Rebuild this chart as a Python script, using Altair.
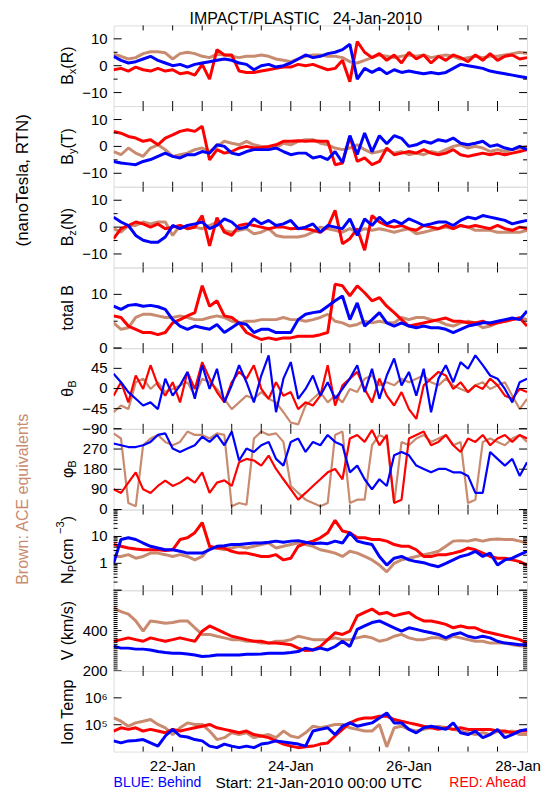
import altair as alt
import pandas as pd

# ---------------- data (3-hour samples from 21-Jan-2010 00:00 UTC) ----------------
HOURS = list(range(0, 169, 3))

BX_ACE = [4.3, 3.5, 2.5, 3, 4.5, 5.2, 5.2, 4.8, 2.5, 4.5,
          5, 4.5, 3.5, 3, 4.3, 4, 3.5, 3, 3.5, 3.5,
          4, 3.5, 2.5, 2, 1.5, 2.5, 3.5, 4, 4, 3.5,
          3.5, 3, 1.5, 1, 2, 3, 4, 3.5, 3, 3.5,
          4, 3.5, 4, 3, 3.5, 4, 3.5, 2.5, 3, 3.5,
          3, 3.5, 3.5, 4, 4.5, 5, 4.5]
BX_AHEAD = [-1.5, -1, -2, -0.5, -1.5, -2, -1, -2, -1.5, -3,
            -2.5, -3.5, 0.5, -5, 6, 4, 4, -2, -2.5, -2.5,
            -2, -1.5, -1, -0.5, -0.5, 0.5, 0, 0.5, -0.5, -1.5,
            -1, 2, -6, 9, 5, 3, 4.5, 2, 4, 1,
            5, 2.5, 4, 1, 3.5, 2, 4, 3, 1.5, 4,
            2, 4.5, 2, 3.5, 4, 2.5, 3]
BX_BEHIND = [3.5, 2, 1, 1.5, 2.5, 3.5, 2, 1, 0, 0.5,
             -0.5, 0.5, 1, 1.5, 2, 2.5, 2, 1, 0.5, -1.5,
             0, 0.5, -0.5, 0, 1, 2.5, 4, 3, 3.5, 4.5,
             5, 6, 8, -5, -1, -2.5, -1, -3, -1.5, -2.5,
             -2, -2.5, -3, -2.5, -3, -2.5, -1, 0.5, 0, -0.5,
             -1, -2, -2.5, -3, -3.5, -4, -4.5]

BY_ACE = [-1.9, -3.1, -0.6, -2.5, -3.7, -0.6, 0.6, -1.2, -3.7, -3.1,
          -2.5, -1.2, -0.6, -1.9, 0, 1.9, 1.2, 0.6, 1.9, 0.6,
          0, -0.6, -0.6, 1.2, 0.6, 1.9, 2.5, 2.5, 1.2, 0.6,
          -0.6, -1.2, -0.6, 0.6, -1.2, -2.5, -1.9, -1.2, -2.5, -1.9,
          -3.1, -2.5, -3.1, -1.9, -2.5, -1.2, 0, 0.6, -0.6, 0,
          -0.6, -1.9, -1.2, -1.9, -1.2, -0.6, 0]
BY_AHEAD = [5.6, 4.9, 3.7, 3.1, 1.9, 2.5, 0.6, 3.1, 4.3, 5.6,
            6.2, 5.6, 7.5, -5, -1.2, -2.5, -1.9, -0.6, 0, -0.6,
            -0.4, 0, 0.6, 1.9, 1.9, 2.1, 1.9, 2.1, 1.9, 1.9,
            -6.8, -6.2, 3.7, -5.6, -4.3, -6.8, -5.6, -0.6, -3.1, -2.5,
            -1.9, -2.5, -1.2, -2.5, -3.1, -2.5, -1.2, -3.1, -3.7, -3.1,
            -2.5, -3.1, -2.5, -3.1, -2.5, -1.9, -1.2]
BY_BEHIND = [-5.6, -6.2, -6.5, -6.8, -5.6, -4.9, -3.7, -2.5, -3.7, -4.3,
             -3.1, -3.1, -1.9, -2.5, 0.6, 0, -2.5, -3.1, -1.9, -1.2,
             -1.2, -1.2, -0.6, -1.9, -3.1, -2.5, -2.5, -4.3, -3.7, -4.9,
             -1.9, -6, 4, -3, 5, -2, 4, 1, 4, 3,
             0, 0.6, 1.9, 1.2, 2.5, 1.9, 3.1, 1.2, 0.6, 1.2,
             1.9, 0, 0.6, -0.6, -1.2, 0, -1.2]

BZ_ACE = [-0.6, -1.9, 0.6, 0.6, 1.9, 1.2, 1.9, 1.9, -3.1, 0.6,
          -0.6, 0, -0.6, 0.6, 1.9, -1.2, -1.9, -1.2, -0.6, -2.5,
          -1.9, -0.6, -3.1, -3.7, -3.7, -3.7, -3.1, -1.9, 0, -0.6,
          -1.2, -1.9, -0.6, -1.9, -0.6, -1.2, -0.6, -1.2, -1.9, -1.2,
          -0.6, -2.5, -1.9, -1.2, -0.6, 0, -0.6, 0.6, 0, -1.2,
          -1.2, -1.2, -1.9, -1.9, -1.9, -1.9, -1.2]
BZ_AHEAD = [-4.3, -0.6, 0.6, 1.9, 1.2, 0, 1.2, -0.6, 0, 0.6,
            -0.6, 0, 4.3, -7, 3.5, -1.9, -3.1, 0.6, 1.2, 0.6,
            0, -0.6, 0, 0, -0.6, -0.4, -0.6, -1.2, -1.9, 0,
            6.2, -6.2, -4.3, -0.6, -8.6, 4.3, 1.9, 0.6, 0, 0.6,
            -0.6, -1.2, 0.6, 0, -0.6, 0.6, -0.6, 0.6, 0, 0.6,
            0, -0.6, 0.6, -0.6, -1.2, 0, -0.6]
BZ_BEHIND = [3.7, 1.9, 0.6, -3.1, -4.9, -5.6, -5.6, -3.7, 0.6, -0.6,
             0.6, 1.2, 1.9, -0.6, 0.6, 3.1, 1.9, -0.6, 0, 3.1,
             1.2, 2.5, 0.6, 1.2, 2.5, -0.6, 0, 1.2, -1.9, 0.6,
             0, -0.6, 3.1, -3.1, 3.1, 0.6, 3.7, 1.2, 2.5, 1.2,
             3.1, 1.9, 0.6, 1.2, 1.9, 1.9, 0.6, 2.5, 3.7, 3.1,
             4.3, 3.7, 3.1, 2.5, 1.2, 1.9, 2.5]

BT_ACE = [4.7, 3.5, 3.8, 5.7, 6.3, 6.3, 6.0, 5.7, 5.7, 6.0,
          5.7, 5.3, 5.3, 5.7, 6.0, 5.7, 5.0, 4.7, 5.0, 5.0,
          5.3, 5.3, 5.3, 5.7, 5.3, 5.3, 5.0, 5.3, 5.7, 6.3,
          5.0, 4.7, 4.1, 4.4, 5.0, 4.7, 5.0, 4.7, 4.7, 5.7,
          5.3, 5.7, 5.7, 5.3, 5.0, 4.4, 4.1, 4.7, 5.0, 4.7,
          3.8, 4.1, 4.7, 5.0, 5.3, 5.7, 5.3]
BT_AHEAD = [6.0, 5.7, 4.1, 3.5, 2.9, 2.9, 2.5, 2.9, 4.7, 5.3,
            6.0, 6.6, 11.6, 7.8, 8.8, 6.0, 5.7, 4.7, 2.9, 2.2,
            1.6, 1.9, 1.6, 1.9, 1.9, 2.2, 2.2, 2.2, 2.5, 2.9,
            11.9, 11.6, 9.7, 11.6, 10.3, 8.8, 9.4, 7.8, 6.6, 5.3,
            4.1, 4.4, 4.7, 5.0, 5.3, 5.6, 5.0, 5.0, 4.7, 4.7,
            5.0, 4.4, 4.7, 5.0, 5.3, 5.6, 4.1]
BT_BEHIND = [7.8, 7.2, 7.95, 8.1, 7.8, 7.95, 7.7, 7.2, 5.3, 4.1,
             3.5, 4.1, 3.8, 3.5, 4.4, 2.9, 3.8, 4.7, 4.4, 2.9,
             3.5, 3.5, 2.9, 2.9, 2.9, 5.3, 6.3, 6.6, 6.8, 7.8,
             8.8, 9.7, 5.3, 8.4, 4.1, 5.3, 6.6, 4.7, 4.1, 4.7,
             4.1, 3.8, 4.1, 3.8, 3.8, 3.5, 2.9, 3.5, 4.1, 4.4,
             4.7, 4.7, 5.0, 5.3, 5.6, 5.3, 6.9]

TH_ACE = [-53, -38, -46, 14, 22, -1, 14, -8, -1, 7,
          14, -16, 22, 14, -1, -23, -46, -31, -16, -23,
          -8, -23, -31, -53, -76, -80, -38, -23, -8, -31,
          -16, -31, -1, -8, 22, 29, 7, 14, 7, 22,
          14, 22, 29, 14, 7, 22, 7, -1, -8, 7,
          14, -1, 7, 14, -16, -46, -23]
TH_AHEAD = [-16, 14, -31, 29, -1, 52, 7, -16, 14, -31,
            37, -1, 59, 22, -8, -31, 14, 37, 22, 52,
            -1, -23, 14, -16, -8, -46, -31, -38, -16, 52,
            -38, 7, 22, 37, -1, -31, 22, -16, -38, -8,
            -46, -68, 7, 22, 37, 29, -1, 14, -8, 7,
            -1, 22, 7, -16, -23, -1, -8]
TH_BEHIND = [33, 14, -8, -23, -38, -31, -46, 22, -16, 7,
             37, -23, 52, -1, 44, -31, 7, 52, 14, -31,
             29, 74, -53, 22, 59, -23, -1, 29, -16, 14,
             -23, -1, 22, 52, -8, 44, -23, 29, 67, 7,
             37, -16, 44, -53, 22, 52, 14, 59, 44, 74,
             52, 29, 22, -1, -31, 14, 22]

PH_ACE = [340, 317, 29, 14, 287, 317, 333, 302, 287, 302,
          348, 333, 333, 317, 340, 333, 14, 29, 21, 317,
          348, 333, 340, 302, 105, 74, 44, 29, 14, 29,
          333, 348, 29, 44, 44, 287, 333, 317, 29, 302,
          287, 317, 333, 302, 317, 333, 287, 302, 29, 44,
          302, 317, 302, 287, 317, 333, 302]
PH_AHEAD = [90, 74, 120, 166, 90, 74, 105, 129, 105, 120,
            143, 120, 166, 74, 120, 130, 105, 211, 226, 219,
            196, 241, 181, 135, 90, 44, 74, 105, 135, 166,
            181, 135, 317, 333, 302, 355, 287, 333, 29, 44,
            317, 333, 348, 287, 302, 333, 287, 257, 317, 302,
            333, 287, 317, 333, 302, 333, 317]
PH_BEHIND = [295, 287, 279, 279, 287, 302, 333, 340, 272, 257,
             272, 287, 325, 302, 333, 287, 348, 219, 272, 257,
             287, 302, 226, 196, 302, 317, 257, 302, 287, 333,
             302, 287, 166, 196, 135, 90, 135, 105, 242, 257,
             242, 196, 181, 166, 181, 181, 166, 166, 150, 74,
             74, 257, 226, 196, 226, 150, 211]

NP_ACE = [1.8, 1.8, 2.1, 1.55, 1.8, 2.4, 2.4, 2.1, 1.8, 2.1,
          1.8, 1.34, 1.8, 3.7, 3.7, 3.2, 3.7, 4.3, 3.7, 4.3,
          5.0, 5.7, 3.7, 4.3, 5.0, 5.7, 5.0, 4.3, 3.2, 2.8,
          2.4, 1.8, 2.8, 2.4, 1.8, 1.34, 0.86, 0.48, 1.0, 1.34,
          1.55, 1.8, 2.1, 2.4, 2.8, 4.3, 6.7, 7.0, 6.7, 7.7,
          6.7, 7.7, 8.0, 7.7, 7.7, 6.7, 5.7]
NP_AHEAD = [5.0, 4.3, 3.7, 3.4, 3.2, 3.2, 3.2, 3.0, 3.2, 7.7,
            8.9, 13.8, 33, 4.3, 3.7, 3.7, 2.8, 2.4, 2.4, 2.1,
            1.8, 1.8, 2.1, 1.34, 1.55, 4.3, 5.7, 6.7, 8.9, 13.8,
            40, 16, 13.8, 8.9, 8.9, 7.7, 7.7, 6.7, 5.0, 4.3,
            4.3, 3.2, 1.8, 1.8, 2.1, 2.1, 2.4, 2.8, 3.7, 3.2,
            2.4, 1.8, 1.55, 1.55, 1.34, 1.16, 0.86]
NP_BEHIND = [1.0, 7.7, 8.9, 7.7, 5.7, 4.3, 3.7, 3.2, 3.2, 2.8,
             2.4, 2.4, 2.4, 3.2, 4.3, 4.5, 5.0, 5.0, 5.4, 5.7,
             5.7, 6.1, 6.7, 6.1, 6.7, 7.0, 6.1, 5.4, 5.7, 5.4,
             6.7, 5.7, 13.8, 6.7, 5.7, 5.0, 1.8, 0.86, 1.55, 1.8,
             1.34, 1.16, 1.06, 0.86, 0.75, 1.0, 1.34, 1.8, 2.1, 2.8,
             1.8, 2.4, 0.86, 1.34, 1.55, 2.1, 2.8]

V_ACE = [511, 494, 482, 448, 397, 448, 443, 436, 440, 448,
         448, 414, 381, 381, 372, 364, 355, 355, 347, 347,
         338, 338, 347, 347, 355, 372, 364, 355, 355, 355,
         364, 355, 355, 364, 372, 364, 347, 355, 372, 381,
         364, 355, 355, 364, 364, 355, 372, 364, 355, 347,
         347, 338, 338, 338, 330, 325, 322]
V_AHEAD = [347, 355, 364, 355, 347, 364, 355, 347, 355, 364,
           355, 347, 397, 423, 406, 389, 372, 364, 355, 347,
           347, 338, 338, 335, 330, 313, 301, 304, 321, 355,
           389, 381, 397, 473, 490, 507, 482, 490, 473, 482,
           490, 465, 448, 448, 440, 431, 414, 423, 414, 414,
           397, 389, 381, 372, 364, 355, 338]
V_BEHIND = [322, 313, 313, 308, 308, 304, 296, 291, 288, 288,
            284, 279, 271, 274, 279, 279, 279, 279, 283, 283,
            284, 288, 288, 288, 291, 296, 313, 304, 313, 304,
            321, 347, 321, 406, 423, 440, 448, 431, 414, 397,
            414, 406, 397, 389, 381, 364, 381, 389, 372, 364,
            372, 364, 347, 338, 335, 330, 330]

T_ACE = [1.79e5, 1.35e5, 8.8e4, 1.17e5, 1.35e5, 1.56e5, 1.02e5, 7.7e4, 4.3e4, 7.7e4,
         1.17e5, 1.02e5, 1.02e5, 5.8e4, 2.8e4, 3.3e4, 5.0e4, 4.3e4, 5.0e4, 3.3e4,
         3.8e4, 4.3e4, 3.3e4, 5.8e4, 3.8e4, 3.3e4, 5.0e4, 8.8e4, 7.7e4, 8.8e4,
         1.02e5, 1.02e5, 7.7e4, 6.7e4, 5.8e4, 5.8e4, 1.02e5, 1.5e4, 7.7e4, 8.8e4,
         6.7e4, 5.8e4, 6.7e4, 7.7e4, 8.8e4, 7.7e4, 6.7e4, 5.8e4, 5.0e4, 4.3e4,
         5.0e4, 4.3e4, 5.8e4, 5.0e4, 5.8e4, 4.3e4, 4.3e4]
T_AHEAD = [5.8e4, 7.7e4, 6.7e4, 7.7e4, 5.8e4, 6.7e4, 5.8e4, 5.0e4, 6.7e4, 5.8e4,
           6.7e4, 7.7e4, 8.8e4, 1.02e5, 7.7e4, 6.7e4, 5.8e4, 5.0e4, 5.8e4, 4.3e4,
           3.8e4, 3.3e4, 2.5e4, 1.9e4, 1.6e4, 1.4e4, 1.5e4, 1.6e4, 1.9e4, 2.1e4,
           3.8e4, 6.7e4, 1.17e5, 1.56e5, 1.79e5, 1.79e5, 2.07e5, 2.07e5, 1.56e5, 1.35e5,
           1.17e5, 1.02e5, 8.8e4, 7.7e4, 6.7e4, 7.7e4, 6.7e4, 7.7e4, 6.7e4, 6.7e4,
           6.7e4, 6.7e4, 5.8e4, 5.8e4, 5.0e4, 5.8e4, 5.8e4]
T_BEHIND = [2.5e4, 2.1e4, 2.5e4, 2.6e4, 2.8e4, 2.1e4, 1.6e4, 3.8e4, 6.7e4, 3.8e4,
            3.5e4, 2.8e4, 2.5e4, 1.6e4, 1.4e4, 1.9e4, 1.6e4, 1.4e4, 1.6e4, 1.4e4,
            1.9e4, 2.1e4, 2.5e4, 2.3e4, 2.1e4, 1.9e4, 1.6e4, 5.8e4, 6.7e4, 7.7e4,
            4.3e4, 8.8e4, 1.17e5, 8.8e4, 1.02e5, 1.17e5, 1.79e5, 2.74e5, 1.17e5, 1.17e5,
            6.7e4, 5.0e4, 7.7e4, 8.8e4, 7.7e4, 6.7e4, 1.17e5, 5.0e4, 4.3e4, 5.8e4,
            3.3e4, 4.3e4, 6.7e4, 3.3e4, 4.3e4, 5.8e4, 6.7e4]

# tick labels
X_LABEL_HOURS = [24, 72, 120, 168]
X_LABELS = ["22-Jan", "24-Jan", "26-Jan", "28-Jan"]
X_TICKS = list(range(12, 168, 12))

TITLE = "IMPACT/PLASTIC\u00a0\u00a0\u00a024-Jan-2010"
FOOT_LEFT = "BLUE: Behind"
FOOT_MID = "Start: 21-Jan-2010 00:00 UTC"
FOOT_RIGHT = "RED: Ahead"
SIDE_UNITS = "(nanoTesla, RTN)"
SIDE_ACE = "Brown: ACE equivalents"

# ---------------- style ----------------
W, H = 415, 80.9
BROWN, RED, BLUE = "#C98B70", "#FF0000", "#0000FF"
FONT = "Liberation Sans"
LAB_X = -46      # centre of the rotated panel titles, relative to plot left
SIDE_X = -91     # centre of the far-left rotated notes

CW = {' ': .278, '(': .333, ')': .333, 'B': .667, 'R': .722, 'T': .611, 'N': .722,
      'x': .5, 'y': .5, 'z': .5, 't': .278, 'o': .556, 'a': .556, 'l': .222, 'e': .556,
      'P': .667, 'c': .5, 'm': .833, '3': .556, '\u2212': .584, 'V': .667, 'k': .5,
      '/': .278, 's': .5, 'I': .278, 'n': .556, 'p': .556, '\u03b8': .556, '\u03c6': .65}


def tw(s, size):
    return sum(CW.get(c, .556) for c in s) * size


def txt(text, x, y, size=14, color="black", angle=0, align="center", dx=0, dy=0):
    return alt.Chart(alt.Data(values=[{"a": 0}])).mark_text(
        text=text, font=FONT, fontSize=size, color=color, angle=angle,
        align=align, baseline="middle", dx=dx, dy=dy
    ).encode(x=alt.value(x), y=alt.value(y))


def vlabel(segs, x, y, size=16, color="black"):
    sizes = [size if k == "n" else size * 0.7 for _, k in segs]
    total = sum(tw(s, sz) for (s, _), sz in zip(segs, sizes))
    cur = -total / 2
    out = []
    for (s, k), sz in zip(segs, sizes):
        dy = 0 if k == "n" else (size * 0.3 if k == "sub" else -size * 0.4)
        out.append(txt(s, x, y, sz, color, angle=270, align="left", dx=cur, dy=dy))
        cur += tw(s, sz)
    return out


def panel(ace, ahead, behind, dom, major, minor, labvals, labtexts, title,
          log=False, extra=(), bottom=False, sw=3.0):
    df = pd.DataFrame({"h": HOURS, "ace": ace, "ahead": ahead, "behind": behind})
    xs = alt.Scale(domain=[0, 168], nice=False, zero=False)
    if log:
        ys = alt.Scale(domain=dom, type="log", nice=False)
    else:
        ys = alt.Scale(domain=dom, nice=False, zero=False)
    layers = []
    for col, color in [("ace", BROWN), ("ahead", RED), ("behind", BLUE)]:
        layers.append(alt.Chart(df).mark_line(color=color, strokeWidth=sw, clip=True,
                                              strokeJoin="bevel").encode(
            x=alt.X("h:Q", scale=xs, axis=None),
            y=alt.Y(f"{col}:Q", scale=ys, axis=None)))
    xt = pd.DataFrame({"h": X_TICKS})
    for ya, yb in [(0, 5), (H - 5, H)]:
        layers.append(alt.Chart(xt).mark_rule(color="black", strokeWidth=1).encode(
            x=alt.X("h:Q", scale=xs, axis=None), y=alt.value(ya), y2=alt.value(yb)))
    for vals, ln in [(major, 8), (minor, 4)]:
        if vals:
            td = pd.DataFrame({"v": vals})
            for xa, xb in [(0, ln), (W - ln, W)]:
                layers.append(alt.Chart(td).mark_rule(color="black", strokeWidth=1).encode(
                    y=alt.Y("v:Q", scale=ys, axis=None), x=alt.value(xa), x2=alt.value(xb)))
    # y tick labels
    ld = pd.DataFrame({"v": labvals, "t": labtexts})
    layers.append(alt.Chart(ld).mark_text(
        align="right", baseline="middle", font=FONT, fontSize=15, color="black").encode(
        y=alt.Y("v:Q", scale=ys, axis=None), x=alt.value(-6), text="t:N"))
    if bottom:
        # the last label is nudged left so that the page is not wider than the window
        for hv, lab in zip(X_LABEL_HOURS, X_LABELS):
            xd = pd.DataFrame({"h": [hv], "t": [lab]})
            layers.append(alt.Chart(xd).mark_text(
                align="center", baseline="middle", font=FONT, fontSize=15, color="black",
                dx=-9 if hv == 168 else 0).encode(
                x=alt.X("h:Q", scale=xs, axis=None), y=alt.value(H + 14.5), text="t:N"))
    layers += vlabel(title, LAB_X, H / 2)
    layers += list(extra)
    return alt.layer(*layers).properties(width=W, height=H)


NP_MINOR = [0.2, 0.3, 0.4, 0.5, 0.6, 0.7, 0.8, 0.9, 2, 3, 4, 5, 6, 7, 8, 9,
            20, 30, 40, 50, 60, 70, 80, 90]
V_MINOR = [v for v in range(210, 600, 10) if v != 400]

p1 = panel(BX_ACE, BX_AHEAD, BX_BEHIND, [-15, 15], [-10, 0, 10], [-5, 5],
           [-10, 0, 10], ["\u221210", "0", "10"], [("B", "n"), ("x", "sub"), ("(R)", "n")],
           extra=[txt(TITLE, 193, -6.3, 16)])
p2 = panel(BY_ACE, BY_AHEAD, BY_BEHIND, [-15, 15], [-10, 0, 10], [-5, 5],
           [-10, 0, 10], ["\u221210", "0", "10"], [("B", "n"), ("y", "sub"), ("(T)", "n")],
           extra=vlabel([(SIDE_UNITS, "n")], SIDE_X, 71, 17))
p3 = panel(BZ_ACE, BZ_AHEAD, BZ_BEHIND, [-15, 15], [-10, 0, 10], [-5, 5],
           [-10, 0, 10], ["\u221210", "0", "10"], [("B", "n"), ("z", "sub"), ("(N)", "n")])
p4 = panel(BT_ACE, BT_AHEAD, BT_BEHIND, [0, 15], [0, 10], [5],
           [0, 10], ["0", "10"], [("total B", "n")])
p5 = panel(TH_ACE, TH_AHEAD, TH_BEHIND, [-90, 90], [-90, -45, 0, 45, 90], [],
           [-90, -45, 0, 45], ["\u221290", "\u221245", "0", "45"],
           [("\u03b8", "n"), ("B", "sub")], sw=2.2)
p6 = panel(PH_ACE, PH_AHEAD, PH_BEHIND, [0, 360], [0, 90, 180, 270, 360], [],
           [0, 90, 180, 270], ["0", "90", "180", "270"],
           [("\u03c6", "n"), ("B", "sub")], sw=2.2,
           extra=vlabel([(SIDE_ACE, "n")], SIDE_X, 67.5, 16, BROWN))
p7 = panel(NP_ACE, NP_AHEAD, NP_BEHIND, [0.1, 100], [0.1, 1, 10, 100], NP_MINOR,
           [1, 10], ["1", "10"],
           [("N", "n"), ("P", "sub"), (" (cm", "n"), ("\u22123", "sup"), (")", "n")], log=True)
p8 = panel(V_ACE, V_AHEAD, V_BEHIND, [200, 600], [200, 400, 600], V_MINOR,
           [200, 400], ["200", "400"], [("V (km/s)", "n")])
p9 = panel(T_ACE, T_AHEAD, T_BEHIND, [1e4, 1e7], [1e5, 1e6], [],
           [1e5, 1e6], ["10\u2075", "10\u2076"], [("Ion Temp", "n")], log=True, bottom=True,
           extra=[txt(FOOT_LEFT, 0, 112.5, 14, BLUE, align="left"),
                  txt(FOOT_MID, 206, 112.5, 15.5, "black"),
                  txt(FOOT_RIGHT, 414, 112.5, 14, RED, align="right")])

chart = alt.vconcat(p1, p2, p3, p4, p5, p6, p7, p8, p9, spacing=0, bounds="flush").properties(
    padding={"left": 5, "top": 1, "right": 0, "bottom": 0}
).configure_view(stroke="black", strokeWidth=1).configure(background="white")

chart.save("out.html", embed_options={"renderer": "svg", "actions": False})
